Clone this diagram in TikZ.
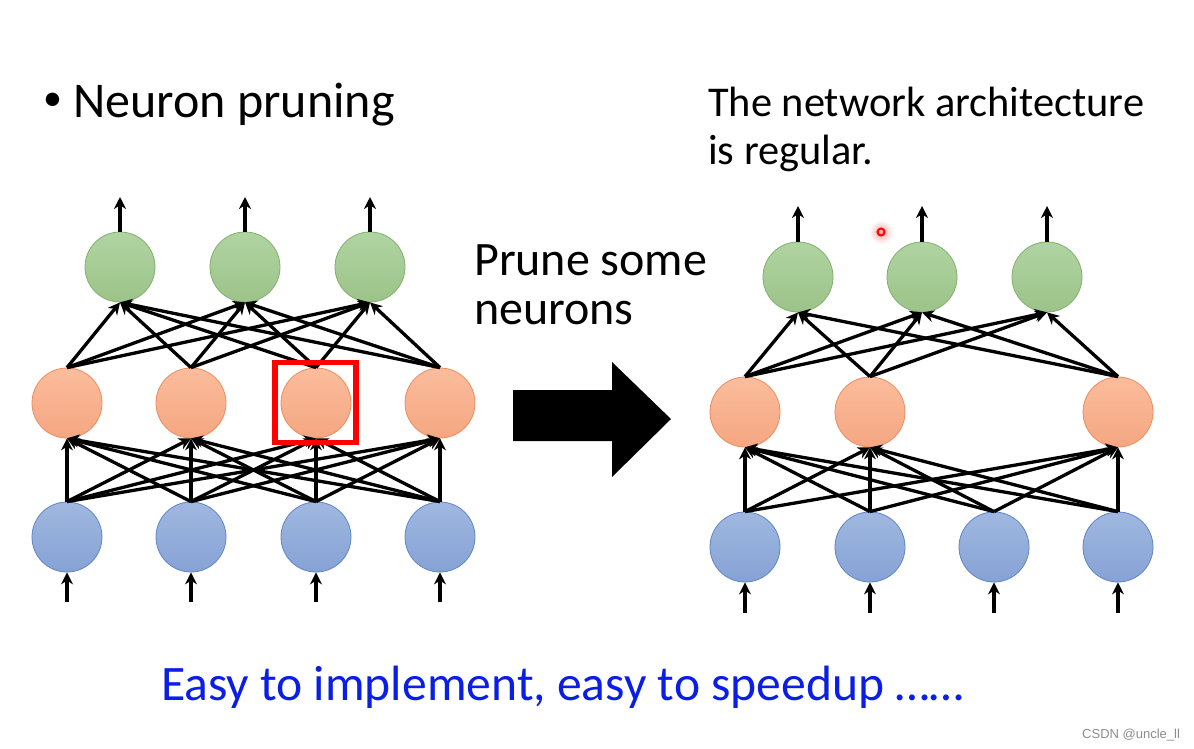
\documentclass[tikz,border=0pt]{standalone}
\usepackage{fontspec}
\setmainfont{Carlito}
\newfontfamily\markfont{Liberation Sans}
\usetikzlibrary{arrows.meta}

\definecolor{outtop}{HTML}{B0D4A2}
\definecolor{outbot}{HTML}{9CC389}
\definecolor{outline}{HTML}{82B06C}
\definecolor{hidtop}{HTML}{FBBD9D}
\definecolor{hidbot}{HTML}{F5A681}
\definecolor{hidline}{HTML}{EE8B5C}
\definecolor{intop}{HTML}{A0B8E0}
\definecolor{inbot}{HTML}{86A2D5}
\definecolor{inline}{HTML}{5E86C6}
\definecolor{easyblue}{HTML}{0A1EE6}

\begin{document}
\begin{tikzpicture}[x=1pt, y=-1pt,
  neuron/.style={circle, inner sep=0, minimum size=70pt, line width=0.8pt},
  outn/.style={neuron, draw=outline, top color=outtop, bottom color=outbot},
  hidn/.style={neuron, draw=hidline, top color=hidtop, bottom color=hidbot},
  inn/.style={neuron, draw=inline, top color=intop, bottom color=inbot},
  edge/.style={line width=3.3pt, -{Stealth[length=12pt, width=12pt]}},
  label/.style={anchor=base west, inner sep=0},
  prunebox/.style={draw=red, line width=5.5pt, minimum width=81pt, minimum height=80pt}]

\fill[white] (0,0) rectangle (1194,748);
\useasboundingbox (0,0) rectangle (1194,748);

% Texts.
\node[inner sep=0, font=\fontsize{38}{40}\selectfont] (dot) at (52.5,102) {\textbullet};
\node[label, font=\fontsize{50}{58}\selectfont] (title) at (73,117) {Neuron pruning};
\node[label, font=\fontsize{48}{56}\selectfont] (prune1) at (474,275) {Prune some};
\node[label, font=\fontsize{48}{56}\selectfont] (prune2) at (474,324) {neurons};
\node[label, font=\fontsize{42.4}{50}\selectfont] (arch1) at (708,116) {The network architecture};
\node[label, font=\fontsize{42.4}{50}\selectfont] (arch2) at (708,164) {is regular.};
\node[label, text=easyblue, font=\fontsize{49.6}{60}\selectfont] (easy) at (161,700) {Easy to implement, easy to speedup ……};
\node[label, text=black!45, font=\markfont\fontsize{13}{15}\selectfont] (mark) at (1082,738) {CSDN @uncle\_ll};

% Left network.
\node[outn] (lo1) at (120,267) {};
\node[outn] (lo2) at (245,267) {};
\node[outn] (lo3) at (370,267) {};

\node[hidn] (lh1) at (67,403) {};
\node[hidn] (lh2) at (191,403) {};
\node[hidn] (lh3) at (316,403) {};
\node[hidn] (lh4) at (440,403) {};

\node[inn] (li1) at (67,537) {};
\node[inn] (li2) at (191,537) {};
\node[inn] (li3) at (316,537) {};
\node[inn] (li4) at (440,537) {};

\coordinate (lout1) at (120,197);
\coordinate (lout2) at (245,197);
\coordinate (lout3) at (370,197);
\coordinate (lin1) at (67,602);
\coordinate (lin2) at (191,602);
\coordinate (lin3) at (316,602);
\coordinate (lin4) at (440,602);

\draw[edge] (lo1.north) -- (lout1);
\draw[edge] (lo2.north) -- (lout2);
\draw[edge] (lo3.north) -- (lout3);
\draw[edge] (lin1) -- (li1.south);
\draw[edge] (lin2) -- (li2.south);
\draw[edge] (lin3) -- (li3.south);
\draw[edge] (lin4) -- (li4.south);

\draw[edge] (lh1.north) -- (lo1.south);
\draw[edge] (lh1.north) -- (lo2.south);
\draw[edge] (lh1.north) -- (lo3.south);
\draw[edge] (lh2.north) -- (lo1.south);
\draw[edge] (lh2.north) -- (lo2.south);
\draw[edge] (lh2.north) -- (lo3.south);
\draw[edge] (lh3.north) -- (lo1.south);
\draw[edge] (lh3.north) -- (lo2.south);
\draw[edge] (lh3.north) -- (lo3.south);
\draw[edge] (lh4.north) -- (lo1.south);
\draw[edge] (lh4.north) -- (lo2.south);
\draw[edge] (lh4.north) -- (lo3.south);

\draw[edge] (li1.north) -- (lh1.south);
\draw[edge] (li1.north) -- (lh2.south);
\draw[edge] (li1.north) -- (lh3.south);
\draw[edge] (li1.north) -- (lh4.south);
\draw[edge] (li2.north) -- (lh1.south);
\draw[edge] (li2.north) -- (lh2.south);
\draw[edge] (li2.north) -- (lh3.south);
\draw[edge] (li2.north) -- (lh4.south);
\draw[edge] (li3.north) -- (lh1.south);
\draw[edge] (li3.north) -- (lh2.south);
\draw[edge] (li3.north) -- (lh3.south);
\draw[edge] (li3.north) -- (lh4.south);
\draw[edge] (li4.north) -- (lh1.south);
\draw[edge] (li4.north) -- (lh2.south);
\draw[edge] (li4.north) -- (lh3.south);
\draw[edge] (li4.north) -- (lh4.south);

\node[prunebox] (cut) at (315.5,402.5) {};

% Big arrow.
\fill (513,390) -- (612,390) -- (612,362) -- (671,419) -- (612,477) -- (612,441) -- (513,441) -- cycle;

% Right network.
\node[outn] (ro1) at (798,277) {};
\node[outn] (ro2) at (922,277) {};
\node[outn] (ro3) at (1047,277) {};

\node[hidn] (rh1) at (745,412) {};
\node[hidn] (rh2) at (870,412) {};
\node[hidn] (rh4) at (1118,412) {};

\node[inn] (ri1) at (745,547) {};
\node[inn] (ri2) at (870,547) {};
\node[inn] (ri3) at (994,547) {};
\node[inn] (ri4) at (1118,547) {};

\coordinate (rout1) at (798,206);
\coordinate (rout2) at (922,206);
\coordinate (rout3) at (1047,206);
\coordinate (rin1) at (745,613);
\coordinate (rin2) at (870,613);
\coordinate (rin3) at (994,613);
\coordinate (rin4) at (1118,613);

\draw[edge] (ro1.north) -- (rout1);
\draw[edge] (ro2.north) -- (rout2);
\draw[edge] (ro3.north) -- (rout3);
\draw[edge] (rin1) -- (ri1.south);
\draw[edge] (rin2) -- (ri2.south);
\draw[edge] (rin3) -- (ri3.south);
\draw[edge] (rin4) -- (ri4.south);

\draw[edge] (rh1.north) -- (ro1.south);
\draw[edge] (rh1.north) -- (ro2.south);
\draw[edge] (rh1.north) -- (ro3.south);
\draw[edge] (rh2.north) -- (ro1.south);
\draw[edge] (rh2.north) -- (ro2.south);
\draw[edge] (rh2.north) -- (ro3.south);
\draw[edge] (rh4.north) -- (ro1.south);
\draw[edge] (rh4.north) -- (ro2.south);
\draw[edge] (rh4.north) -- (ro3.south);

\draw[edge] (ri1.north) -- (rh1.south);
\draw[edge] (ri1.north) -- (rh2.south);
\draw[edge] (ri1.north) -- (rh4.south);
\draw[edge] (ri2.north) -- (rh1.south);
\draw[edge] (ri2.north) -- (rh2.south);
\draw[edge] (ri2.north) -- (rh4.south);
\draw[edge] (ri3.north) -- (rh1.south);
\draw[edge] (ri3.north) -- (rh2.south);
\draw[edge] (ri3.north) -- (rh4.south);
\draw[edge] (ri4.north) -- (rh1.south);
\draw[edge] (ri4.north) -- (rh2.south);
\draw[edge] (ri4.north) -- (rh4.south);

% Pointer dot.
\shade[inner color=red!35, outer color=white] (881,232) circle (12);
\draw[red, line width=2pt] (881,232) circle (3.5);

\end{tikzpicture}
\end{document}
